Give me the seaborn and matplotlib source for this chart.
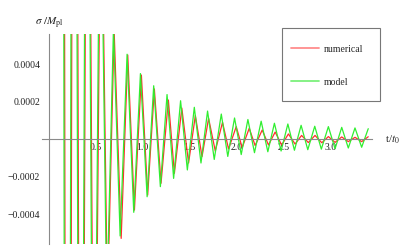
import numpy as np
import pandas as pd
import matplotlib
matplotlib.use('Agg')
import matplotlib.pyplot as plt
import seaborn as sns
from matplotlib.patches import Rectangle
from matplotlib.ticker import MultipleLocator

# ── Data: extrema of the oscillations ─────────────────────────────
t_numerical = [0.133, 0.202, 0.274, 0.345, 0.414, 0.486, 0.557, 0.626, 0.697, 0.772,
               0.842, 0.913, 0.987, 1.054, 1.125, 1.196, 1.274, 1.338, 1.417, 1.489,
               1.561, 1.632, 1.702, 1.773, 1.850, 1.914, 1.996, 2.059, 2.134, 2.197,
               2.272, 2.339, 2.410, 2.479, 2.551, 2.622, 2.691, 2.763, 2.834, 2.906,
               2.976, 3.047, 3.118, 3.188, 3.259, 3.330, 3.400]
sigma_numerical = [0.0118, -0.0089, 0.0064, -0.0047, 0.0034, -0.0024, 0.0016, -0.00088,
                   0.00058, -0.000530, 0.000448, -0.000379, 0.000341, -0.000299,
                   0.000267, -0.000236, 0.000208, -0.000183, 0.000165, -0.000128,
                   0.000125, -0.000094, 0.000110, -0.000064, 0.000089, -0.000053,
                   0.000066, -0.000046, 0.000057, -0.000035, 0.000048, -0.000032,
                   0.000037, -0.000032, 0.000027, -0.000027, 0.000019, -0.000019,
                   0.000019, -0.000020, 0.000013, -0.000018, 0.000011, -0.000014,
                   0.000009, -0.000014, 0.000012]

t_model = [0.124, 0.194, 0.265, 0.337, 0.407, 0.478, 0.549, 0.619, 0.690, 0.761,
           0.835, 0.906, 0.977, 1.048, 1.118, 1.189, 1.260, 1.330, 1.404, 1.476,
           1.550, 1.621, 1.691, 1.762, 1.837, 1.906, 1.978, 2.049, 2.120, 2.190,
           2.261, 2.332, 2.402, 2.473, 2.545, 2.615, 2.686, 2.757, 2.831, 2.901,
           2.976, 3.047, 3.118, 3.188, 3.259, 3.330, 3.400]
sigma_model = [0.0120, -0.0090, 0.0065, -0.0048, 0.0035, -0.0025, 0.0017, -0.00090,
               0.00059, -0.000517, 0.000452, -0.000391, 0.000349, -0.000308,
               0.000284, -0.000254, 0.000237, -0.000210, 0.000204, -0.000165,
               0.000169, -0.000128, 0.000149, -0.000109, 0.000133, -0.000093,
               0.000112, -0.000083, 0.000104, -0.000073, 0.000095, -0.000068,
               0.000084, -0.000064, 0.000080, -0.000060, 0.000073, -0.000057,
               0.000068, -0.000054, 0.000066, -0.000052, 0.000062, -0.000048,
               0.000059, -0.000044, 0.000055]

x_ticks = [0.5, 1.0, 1.5, 2.0, 2.5, 3.0]
x_tick_labels = ['0.5', '1.0', '1.5', '2.0', '2.5', '3.0']
y_ticks = [-0.0004, -0.0002, 0.0002, 0.0004]
y_tick_labels = ['\u22120.0004', '\u22120.0002', '0.0002', '0.0004']

df = pd.concat([
    pd.DataFrame({'t': t_numerical, 'sigma': sigma_numerical, 'series': 'numerical'}),
    pd.DataFrame({'t': t_model, 'sigma': sigma_model, 'series': 'model'}),
])

sns.set_style('white')
plt.rcParams['font.family'] = ['Liberation Serif', 'DejaVu Serif']
plt.rcParams['mathtext.fontset'] = 'stix'

fig = plt.figure(figsize=(4, 2.5), dpi=100)
ax = fig.add_axes([42 / 400, 6 / 250, 330 / 400, 210 / 250])

sns.lineplot(data=df, x='t', y='sigma', hue='series',
             hue_order=['numerical', 'model'],
             palette={'numerical': '#ff2e2e', 'model': '#30ee30'},
             linewidth=0.9, sort=False, estimator=None, ax=ax)
for line in ax.get_lines():
    line.set_solid_joinstyle('round')

ax.set_xlim(-0.07, 3.44)
ax.set_ylim(-0.00056, 0.00056)

# Mathematica-style axes crossing at the origin
axis_col = '#8a8a8a'
for side in ['top', 'right']:
    ax.spines[side].set_visible(False)
for side in ['left', 'bottom']:
    ax.spines[side].set_position('zero')
    ax.spines[side].set_color(axis_col)
    ax.spines[side].set_linewidth(0.8)

ax.set_xticks(x_ticks)
ax.set_xticklabels(x_tick_labels)
ax.set_yticks(y_ticks)
ax.set_yticklabels(y_tick_labels)
ax.xaxis.set_minor_locator(MultipleLocator(0.1))
ax.yaxis.set_minor_locator(MultipleLocator(0.00005))
ax.tick_params(which='major', direction='in', length=3, width=0.6,
               color=axis_col, labelsize=7, labelcolor='#222222', pad=3)
ax.tick_params(which='minor', direction='in', length=1.6, width=0.5, color=axis_col)
ax.tick_params(axis='y', which='major', pad=6)
ax.set_xlabel('')
ax.set_ylabel('')

fig.text(35 / 400, 1 - 23 / 250, r'$\sigma\ /M_{\rm pl}$', fontsize=8,
         ha='left', va='center', color='#222222')
fig.text(385 / 400, 1 - 140 / 250, r't/$t_0$', fontsize=8,
         ha='left', va='center', color='#222222')

# legend box
handles, labels = ax.get_legend_handles_labels()
ax.get_legend().remove()
fig.patches.append(Rectangle((282 / 400, 1 - 101 / 250), 98 / 400, 73 / 250,
                             transform=fig.transFigure, facecolor='white',
                             edgecolor='#777777', linewidth=0.8, zorder=5))
leg = fig.legend(handles, labels, loc='upper left',
                 bbox_to_anchor=(284 / 400, 1 - 38 / 250),
                 frameon=False, fontsize=7, handlelength=2.9,
                 handletextpad=0.45, labelspacing=2.45, borderpad=0.2)
leg.set_zorder(6)
for line, col in zip(leg.get_lines(), ['#ff8c8c', '#7cf07c']):
    line.set_linewidth(1.3)
    line.set_color(col)

fig.savefig('out.png', dpi=100)
